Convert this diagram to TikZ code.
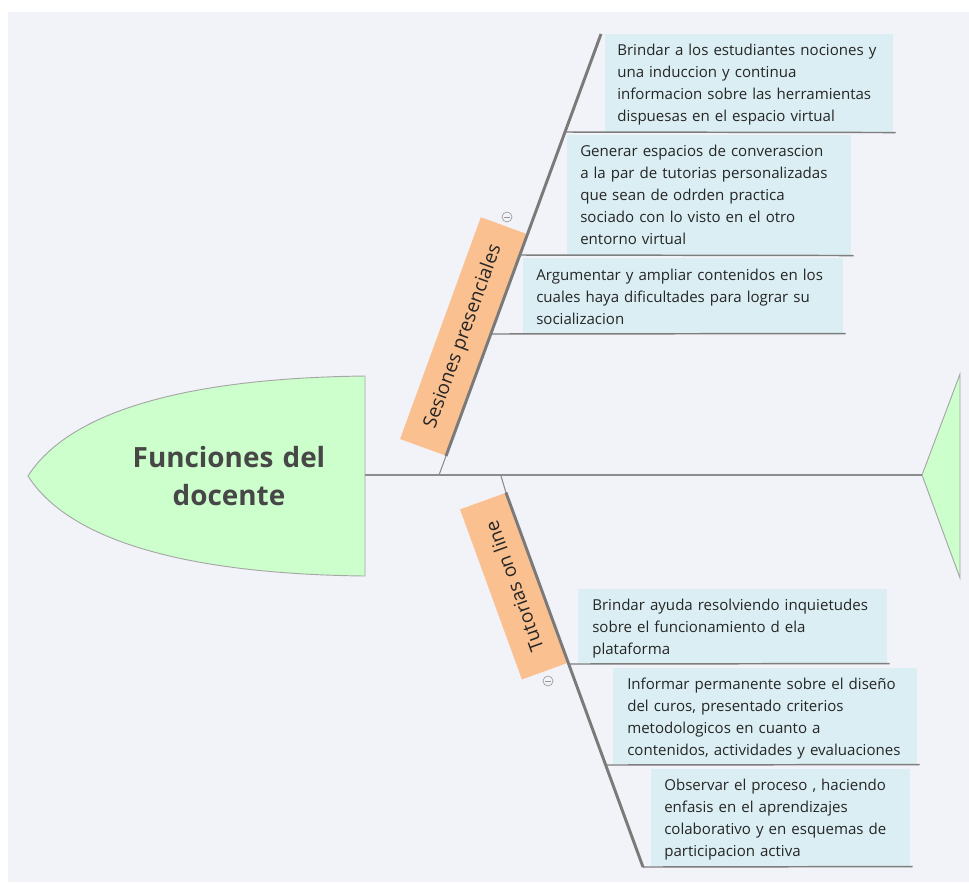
\documentclass[tikz,border=0pt]{standalone}
\usepackage{fontspec}
\setmainfont{Open Sans}
\definecolor{bgc}{HTML}{F2F3F8}
\definecolor{headc}{HTML}{CCFFCC}
\definecolor{labc}{HTML}{FAC090}
\definecolor{boxc}{HTML}{DAEEF3}
\definecolor{linec}{HTML}{8C8C8C}
\definecolor{thickc}{HTML}{7A7A7A}
\definecolor{txtc}{HTML}{262626}
\definecolor{titc}{HTML}{474747}
\begin{document}
\begin{tikzpicture}[x=0.75pt,y=-0.75pt,
  subbox/.style={fill=boxc, inner sep=0, anchor=north west},
  txt/.style={anchor=base west, inner sep=0, text width=260pt, align=left,
    font=\fontsize{11.3}{16.5}\selectfont, text=txtc},
  lab/.style={fill=labc, inner sep=0, anchor=south west, minimum height=36.5pt,
    font=\fontsize{14.3}{16}\selectfont, text=txtc},
  thin/.style={draw=linec, line width=0.8pt},
  thick/.style={draw=thickc, line width=2.2pt},
  uline/.style={draw=linec!90!black, line width=1.1pt},
  minus/.style={circle, draw=gray!80, line width=0.5pt, minimum size=7.5pt, inner sep=0,
    path picture={\draw[gray!80, line width=0.5pt] ([xshift=-2.2pt]path picture bounding box.center) -- ([xshift=2.2pt]path picture bounding box.center);}}
]
\useasboundingbox (0,0) rectangle (969,882);
\fill[white] (0,0) rectangle (969,882);
\fill[bgc] (8,12) rectangle (969,882);

% head
\draw[fill=headc, draw=gray!70, line width=0.7pt] (365,376) .. controls (190,378) and (70,410) .. (28,476)
  .. controls (70,542) and (190,574) .. (365,576) -- cycle;
\node[font=\bfseries\fontsize{20.9}{28.5}\selectfont, text=titc, text width=260pt, align=center, anchor=base, inner sep=0]
  (title) at (229,467) {Funciones del\\docente};
\coordinate (headr) at (365,475);

% tail
\node[inner sep=0] (tailtip) at (922,475) {};
\draw[fill=headc, draw=gray!70, line width=0.7pt] (922,475) -- (960,374) -- (960,578) -- cycle;

% spine
\draw[thin] (headr) -- (tailtip.center);

% upper branch
\coordinate (s1) at (439,475);
\coordinate (t1) at (601,34);
\node[lab, rotate=70, minimum width=177pt] (sp) at (446,456) {Sesiones presenciales};
\draw[thin] (s1) -- (sp.south west);
\draw[thick] (sp.south west) -- (t1);
\node[minus] (m1) at (507,217) {};

% lower branch
\coordinate (s2) at (501,476);
\coordinate (t2) at (643,867);
\node[lab, rotate=110, minimum width=135.75pt] (to) at (568,663) {Tutorias on line};
\draw[thin] (s2) -- (to.south east);
\draw[thick] (to.south east) -- (t2);
\node[minus] (m2) at (548,681) {};

% upper sub-topics
\node[subbox, minimum width=216pt, minimum height=73.5pt] (b1) at (605,34) {};
\node[txt] (x1) at (617,55) {Brindar a los estudiantes nociones y\\una induccion y continua\\informacion sobre las herramientas\\dispuesas en el espacio virtual};
\coordinate (l1) at (565,132);
\draw[uline] (l1) -- ([xshift=1.5pt]b1.south east);

\node[subbox, minimum width=213pt, minimum height=90pt] (b2) at (567,135) {};
\node[txt] (x2) at (580,156) {Generar espacios de converascion\\a la par de tutorias personalizadas\\que sean de odrden practica\\sociado con lo visto en el otro\\entorno virtual};
\coordinate (l2) at (520,255);
\draw[uline] (l2) -- ([xshift=1.5pt]b2.south east);

\node[subbox, minimum width=240pt, minimum height=56.25pt] (b3) at (523,258) {};
\node[txt] (x3) at (536,280) {Argumentar y ampliar contenidos en los\\cuales haya dificultades para lograr su\\socializacion};
\coordinate (l3) at (491,334);
\draw[uline] (l3) -- ([xshift=1.5pt]b3.south east);

% lower sub-topics
\node[subbox, minimum width=231.75pt, minimum height=55.5pt] (b4) at (578,589) {};
\node[txt] (x4) at (592,610) {Brindar ayuda resolviendo inquietudes\\sobre el funcionamiento d ela\\plataforma};
\coordinate (l4) at (569,664);
\draw[uline] (l4) -- ([xshift=1.5pt]b4.south east);

\node[subbox, minimum width=228pt, minimum height=72pt] (b5) at (613,668) {};
\node[txt] (x5) at (627,689) {Informar permanente sobre el diseño\\del curos, presentado criterios\\metodologicos en cuanto a\\contenidos, actividades y evaluaciones};
\coordinate (l5) at (606,765);
\draw[uline] (l5) -- ([xshift=1.5pt]b5.south east);

\node[subbox, minimum width=194.25pt, minimum height=72.75pt] (b6) at (651,769) {};
\node[txt] (x6) at (664,790) {Observar el proceso , haciendo\\enfasis en el aprendizajes\\colaborativo y en esquemas de\\participacion activa};
\draw[uline] (t2) -- ([xshift=1.5pt]b6.south east);
\end{tikzpicture}
\end{document}
